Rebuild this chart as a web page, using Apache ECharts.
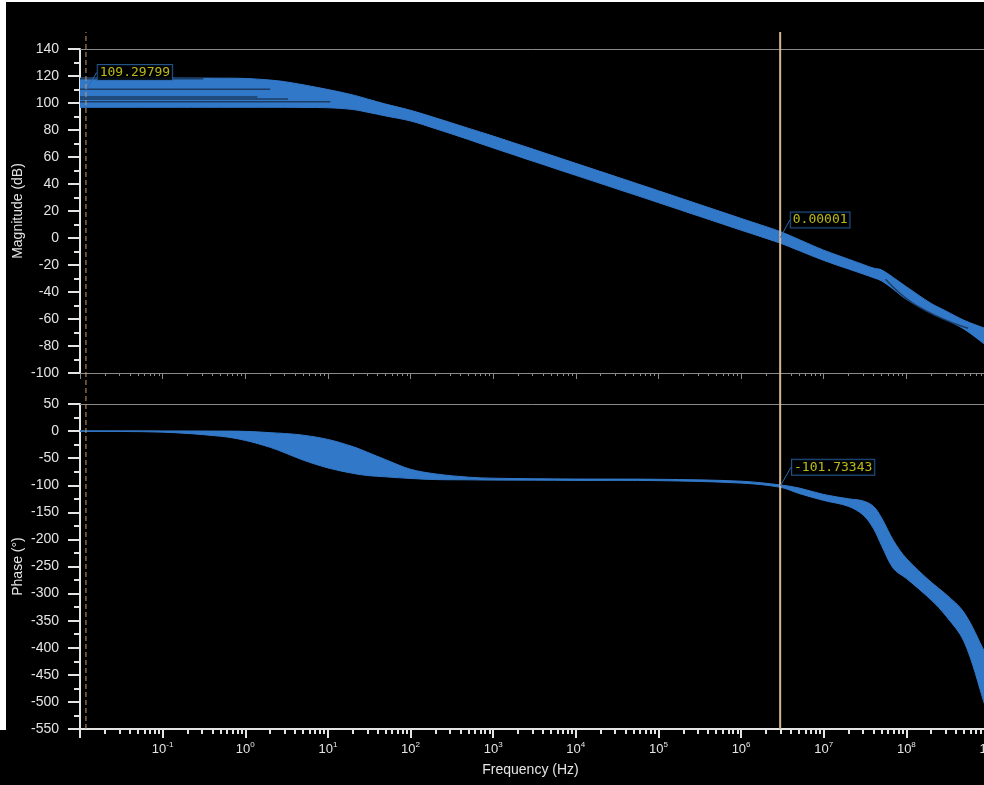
<!DOCTYPE html>
<html>
<head>
<meta charset="utf-8">
<script src="https://cdn.jsdelivr.net/npm/echarts@6/dist/echarts.min.js"></script>
<style>
  html, body { margin: 0; padding: 0; background: #fff; overflow: hidden; }
  #chart { position: absolute; left: 0; top: 0; width: 984px; height: 785px; background: #000; }
  .edge { position: absolute; background: #fff; }
</style>
</head>
<body>
<div id="chart"></div>
<div class="edge" style="left:0;top:0;width:6px;height:730px"></div>
<div class="edge" style="left:0;top:0;width:984px;height:2px"></div>
<script>
// frequency points (Hz) where the envelope of the monte-carlo runs was read
const freqHz = [0.01, 0.1, 0.5, 1, 2, 3, 5, 10, 20, 30, 50, 100, 200, 500, 1e3, 1e4, 1e5, 1e6,
  3e6, 5e6, 1e7, 2e7, 3e7, 4e7, 5e7, 7e7, 1e8, 2e8, 3e8, 5e8, 9e8];
// magnitude envelope (dB)
const magUpper = [118.5, 118.5, 118.4, 118.2, 117.0, 115.8, 113.5, 110.0, 106.0, 103.0, 99.2, 94.6, 89.0, 81.3,
  75.5, 55.3, 35.0, 14.5, 4.7, -1.1, -9.0, -15.7, -19.6, -22.3, -23.6, -29.4, -36.1, -48.5, -54.0, -61.0, -67.0];
const magLower = [96.8, 96.8, 96.8, 96.8, 96.8, 96.8, 96.7, 96.5, 95.2, 93.2, 90.4, 86.7, 81.0, 73.0,
  66.7, 46.4, 26.2, 5.8, -3.9, -9.3, -16.6, -23.0, -26.7, -29.4, -31.7, -38.1, -45.4, -55.5, -60.5, -67.5, -79.0];
// phase envelope (deg)
const phaseUpper = [0.5, 0.3, 0, -0.5, -2.9, -4.5, -7.5, -15.4, -28.6, -39, -52.8, -70.5, -79, -85,
  -87, -88.5, -89, -92.5, -99.5, -105, -117, -125, -129, -139, -160, -202.5, -235, -279, -301, -335, -410];
const phaseLower = [-0.5, -2, -9.5, -17.2, -30, -40, -53.5, -68, -78, -82, -84.5, -87.5, -89.5, -90,
  -90.5, -91, -91.5, -96, -103.8, -115, -128, -139, -155, -180, -211, -254, -272, -312, -341, -389, -508];

// dark gaps between individual runs at low frequency
const gapLevels = [118.0, 110.1, 104.4, 103.0, 101.0];
const gapEndHz = [0.31, 2.0, 1.4, 3.3, 10.7];
// dark gap in the magnitude band past the second pole
const hfGapHz = [5.6e7, 1.4e8, 5.6e8];
const hfGapDb = [-30.6, -50.9, -66.9];

// axis ticks (decade exponents)
const decades = [-2, -1, 0, 1, 2, 3, 4, 5, 6, 7, 8, 9];
const decadeLabels = [-1, 0, 1, 2, 3, 4, 5, 6, 7, 8, 9];
const minorMult = [2, 3, 4, 5, 6, 7, 8, 9];

// cursors and readouts
const cursorHz = [0.0118, 2.97e6];
const magReadHz = [0.0118, 2.97e6];
const magRead = [109.29799, 0.00001];
const phaseReadHz = [2.97e6];
const phaseRead = [-101.73343];

const lg = v => Math.log10(v);
const minorTicks = [];
decades.slice(0, -1).forEach(e => minorMult.forEach(m => minorTicks.push(lg(m * Math.pow(10, e)))));

const white = '#e4e4e4';
const grey = '#8a8a8a';
const blue = '#3278c8';
const gapColor = '#1b3c64';
const font = 'Liberation Sans, Arial, sans-serif';

// filled band between the two envelopes (ends doubled so smoothing keeps the corners)
function band(xi, yi, up, lo) {
  return {
    type: 'custom', xAxisIndex: xi, yAxisIndex: yi, clip: true, silent: true, z: 2,
    data: [[lg(freqHz[0]), up[0]]],
    renderItem: (params, api) => {
      const top = freqHz.map((f, i) => api.coord([lg(f), up[i]]));
      const bot = freqHz.map((f, i) => api.coord([lg(f), lo[i]])).reverse();
      const pts = [top[0]].concat(top, [top[top.length - 1]], [bot[0]], bot, [bot[bot.length - 1]]);
      return {
        type: 'polygon',
        shape: { points: pts, smooth: 0.35 },
        style: { fill: blue, stroke: blue, lineWidth: 1 }
      };
    }
  };
}

const readLabel = {
  show: true,
  formatter: p => p.value[1].toFixed(5),
  fontFamily: 'DejaVu Sans Mono',
  fontSize: 13,
  color: '#e6e61c',
  backgroundColor: '#000',
  borderColor: '#2b68ab',
  borderWidth: 1,
  padding: [2, 2, 0, 2]
};
const readLine = { show: true, lineStyle: { color: '#2b68ab', width: 1 } };

function yAxisBase(grid, min, max, interval, name) {
  return {
    type: 'value', gridIndex: grid, min: min, max: max, interval: interval,
    name: name, nameLocation: 'middle', nameGap: 55, nameMoveOverlap: false,
    nameTextStyle: { color: white, fontSize: 14, fontFamily: font },
    axisLine: { show: true, onZero: false, lineStyle: { color: white, width: 2 } },
    axisTick: { show: true, length: 12, lineStyle: { color: white, width: 2 } },
    minorTick: { show: true, splitNumber: 2, length: 6, lineStyle: { color: white, width: 2 } },
    axisLabel: { color: white, fontSize: 14, fontFamily: font, margin: 21 },
    splitLine: { show: false }
  };
}

function xAxisBase(grid, extra) {
  const ax = Object.assign({
    type: 'value', gridIndex: grid, min: -2, max: 9,
    splitLine: { show: false }, axisLabel: { show: false }, axisTick: { show: false },
    axisLine: {}
  }, extra);
  ax.axisLine = Object.assign({ onZero: false }, ax.axisLine);
  return ax;
}

// plot runs past the right edge (the 10^9 decade is cut off like in the original)
const gridX = { left: 80, right: -5, outerBoundsMode: 'none', containLabel: false };

const chart = echarts.init(document.getElementById('chart'));
chart.setOption({
  animation: false,
  backgroundColor: '#000',
  grid: [
    Object.assign({ top: 49, height: 324 }, gridX),
    Object.assign({ top: 404, height: 325 }, gridX),
    Object.assign({ top: 49, height: 324 }, gridX),
    Object.assign({ top: 404, height: 325 }, gridX),
    Object.assign({ top: 32, height: 697 }, gridX)
  ],
  xAxis: [
    xAxisBase(0, {
      position: 'bottom',
      axisLine: { lineStyle: { color: grey, width: 1 } },
      axisTick: { show: true, customValues: decades, length: 6, lineStyle: { color: grey, width: 1 } }
    }),
    xAxisBase(0, { position: 'top', axisLine: { lineStyle: { color: grey, width: 1 } } }),
    xAxisBase(1, {
      position: 'bottom',
      name: 'Frequency (Hz)', nameLocation: 'middle', nameGap: 34,
      nameTextStyle: { color: white, fontSize: 14, fontFamily: font, padding: [0, 8, 0, 0] },
      axisLine: { lineStyle: { color: white, width: 2 } },
      axisTick: { show: true, customValues: decades, length: 9, lineStyle: { color: white, width: 2 } },
      axisLabel: {
        show: true, customValues: decadeLabels, margin: 12,
        formatter: v => '{b|10}{s|' + v + '}',
        rich: {
          b: { color: white, fontSize: 13, fontFamily: font, lineHeight: 16 },
          s: { color: white, fontSize: 8, fontFamily: font, lineHeight: 10, verticalAlign: 'top' }
        }
      }
    }),
    xAxisBase(1, { position: 'top', axisLine: { lineStyle: { color: grey, width: 1 } } }),
    xAxisBase(2, {
      position: 'bottom', axisLine: { show: false },
      axisTick: { show: true, customValues: minorTicks, length: 3, lineStyle: { color: grey, width: 1 } }
    }),
    xAxisBase(3, {
      position: 'bottom', axisLine: { show: false },
      axisTick: { show: true, customValues: minorTicks, length: 5, lineStyle: { color: white, width: 2 } }
    }),
    xAxisBase(4, { show: false })
  ],
  yAxis: [
    yAxisBase(0, -100, 140, 20, 'Magnitude (dB)'),
    yAxisBase(1, -550, 50, 50, 'Phase (°)'),
    { type: 'value', gridIndex: 2, min: -100, max: 140, show: false },
    { type: 'value', gridIndex: 3, min: -550, max: 50, show: false },
    { type: 'value', gridIndex: 4, min: 0, max: 1, show: false }
  ],
  series: [
    band(0, 0, magUpper, magLower),
    band(2, 1, phaseUpper, phaseLower),
    ...gapLevels.map((lvl, i) => ({
      type: 'line', xAxisIndex: 0, yAxisIndex: 0, symbol: 'none', silent: true, z: 3,
      data: [[lg(freqHz[0]), lvl], [lg(gapEndHz[i]), lvl]],
      lineStyle: { color: gapColor, width: 1.5 }
    })),
    {
      type: 'line', xAxisIndex: 0, yAxisIndex: 0, symbol: 'none', silent: true, z: 3, smooth: true,
      data: hfGapHz.map((f, i) => [lg(f), hfGapDb[i]]),
      lineStyle: { color: gapColor, width: 1.5 }
    },
    {
      type: 'line', xAxisIndex: 6, yAxisIndex: 4, symbol: 'none', silent: true, z: 4,
      data: [[lg(cursorHz[0]), 0], [lg(cursorHz[0]), 1]],
      lineStyle: { color: '#c99a66', width: 1, type: [5, 3] }
    },
    {
      type: 'line', xAxisIndex: 6, yAxisIndex: 4, symbol: 'none', silent: true, z: 4,
      data: [[lg(cursorHz[1]), 0], [lg(cursorHz[1]), 1]],
      lineStyle: { color: '#d3b690', width: 2 }
    },
    {
      type: 'scatter', xAxisIndex: 0, yAxisIndex: 0, symbolSize: 1, z: 6,
      itemStyle: { color: 'rgba(0,0,0,0)' },
      data: magReadHz.map((f, i) => [lg(f), magRead[i]]),
      label: readLabel, labelLine: readLine,
      labelLayout: p => (p.dataIndex === 0 ? { dx: 49, dy: -18 } : { dx: 40, dy: -18 })
    },
    {
      type: 'scatter', xAxisIndex: 2, yAxisIndex: 1, symbolSize: 1, z: 6,
      itemStyle: { color: 'rgba(0,0,0,0)' },
      data: phaseReadHz.map((f, i) => [lg(f), phaseRead[i]]),
      label: readLabel, labelLine: readLine,
      labelLayout: { dx: 53, dy: -19 }
    }
  ]
});
</script>
</body>
</html>
